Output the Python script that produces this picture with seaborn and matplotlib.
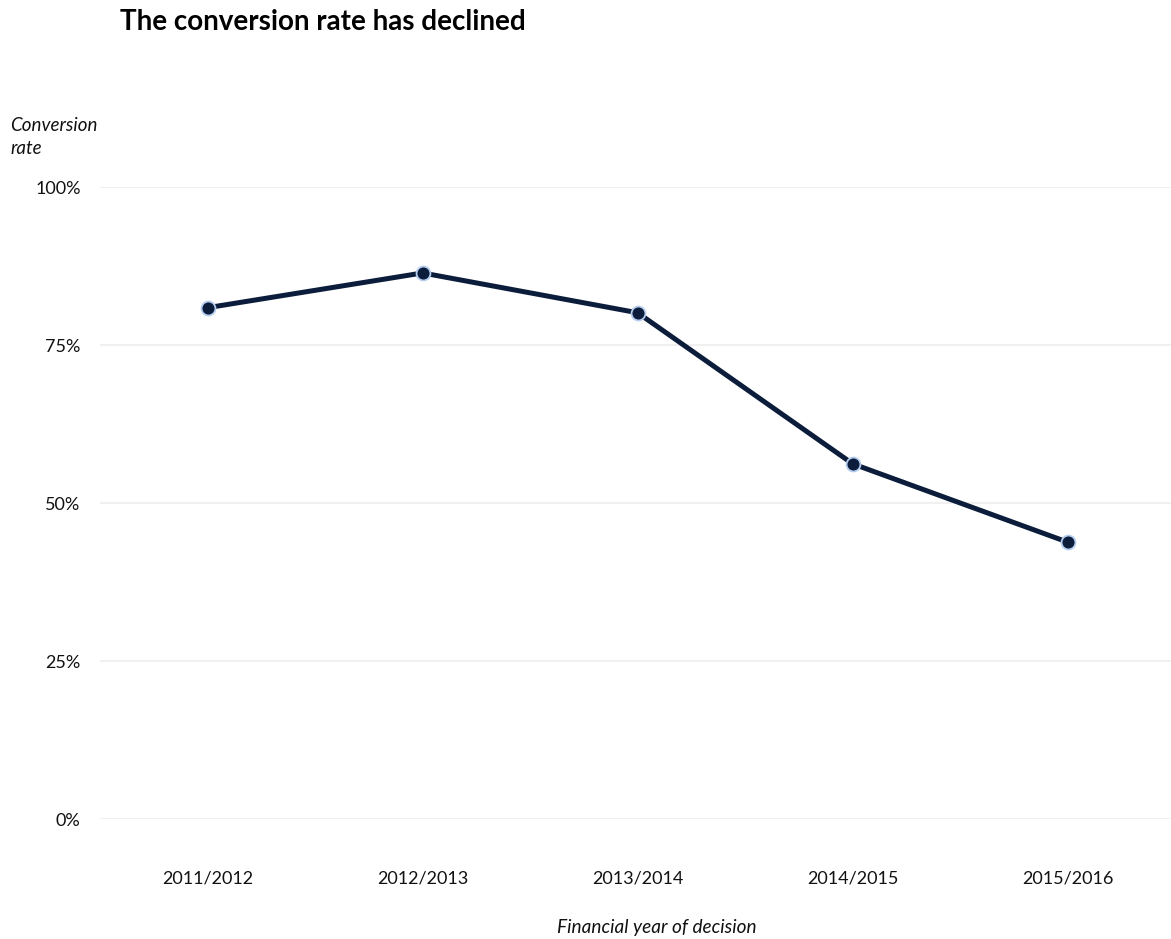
import matplotlib
matplotlib.use("Agg")
import matplotlib.pyplot as plt
import seaborn as sns
import pandas as pd
from matplotlib.ticker import PercentFormatter

years = ["2011/2012", "2012/2013", "2013/2014", "2014/2015", "2015/2016"]
rates = [0.809, 0.864, 0.801, 0.562, 0.438]
y_ticks = [0, 0.25, 0.5, 0.75, 1.0]

df = pd.DataFrame({"year": years, "rate": rates})

sns.set_theme(style="white")
plt.rcParams["font.family"] = ["Lato", "DejaVu Sans"]

fig = plt.figure(figsize=(11.71, 9.39), dpi=100)
ax = fig.add_axes([100/1171, 120/939, 1 - 100/1171, 632/939])

sns.lineplot(data=df, x="year", y="rate", ax=ax, color="#0c1d3c", linewidth=3.6,
             marker="o", markersize=10, markeredgecolor="#b4cdee", markeredgewidth=1.3,
             sort=False)
for l in ax.lines:
    l.set_clip_on(False)

ax.set_ylim(0, 1.0)
ax.set_xlim(-0.5, 4.48)
ax.set_yticks(y_ticks)
ax.yaxis.set_major_formatter(PercentFormatter(1.0, decimals=0))
ax.grid(axis="y", color="#f0f0f0", linewidth=1.5)
ax.grid(axis="x", visible=False)
ax.set_axisbelow(True)
for s in ax.spines.values():
    s.set_visible(False)
ax.tick_params(axis="y", length=0, pad=14, labelsize=13, labelcolor="#111111")
ax.tick_params(axis="x", length=0, pad=37, labelsize=13, labelcolor="#111111")
ax.set_xlabel("")
ax.set_ylabel("")

fig.text(657/1171, 1 - 927/939, "Financial year of decision", ha="center", va="center",
         fontsize=13.7, style="italic", color="#111111")
fig.text(10/1171, 1 - 137/939, "Conversion\nrate", ha="left", va="center",
         fontsize=13.5, style="italic", color="#111111", linespacing=1.4)
fig.text(120/1171, 1 - 22/939, "The conversion rate has declined", ha="left", va="center",
         fontsize=20, fontweight="bold", color="#000000")

fig.savefig("out.png", dpi=100)
